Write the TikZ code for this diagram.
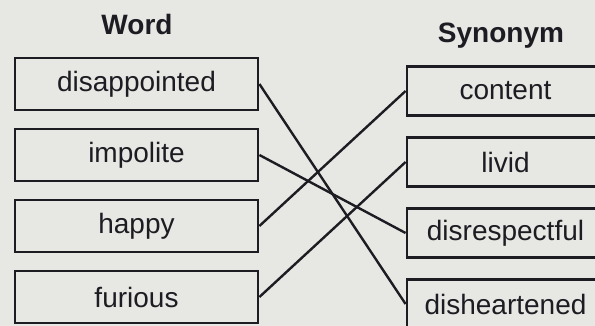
\documentclass[tikz,border=0pt]{standalone}
\usepackage{fontspec}
\setmainfont{Liberation Sans}
\usetikzlibrary{positioning}
\definecolor{paper}{RGB}{231,231,227}
\definecolor{ink}{RGB}{28,28,34}
\begin{document}
\begin{tikzpicture}[
  x=1pt, y=-1pt,
  node distance = 71pt,
  wnode/.style={rectangle, draw=ink, line width=2.8pt, minimum width=243pt, minimum height=52pt, text=ink, font=\fontsize{28}{32}\selectfont},
  snode/.style={wnode, minimum width=197pt, minimum height=49pt},
  hnode/.style={anchor=base, text=ink, font=\fontsize{28}{32}\selectfont\bfseries},
  match/.style={-, draw=ink, line width=2.4pt}
  ]

\fill [paper] (0,0) rectangle (595,326);
\clip (0,0) rectangle (595,326);

% words

\node [hnode] (wordhead) at (137,35) {Word};
\node [wnode] (w1) at (136.5,84) {disappointed};
\node [wnode, below of=w1] (w2) {impolite};
\node [wnode, below of=w2] (w3) {happy};
\node [wnode, below of=w3] (w4) {furious};

% synonyms

\node [hnode] (synhead) at (501,43) {Synonym};
\node [snode] (s1) at (505.5,91) {content};
\node [snode, below of=s1] (s2) {livid};
\node [snode, below of=s2] (s3) {disrespectful};
\node [snode, below of=s3] (s4) {disheartened};

% matching

\draw [match] (w1.east) -- (s4.west);
\draw [match] (w2.east) -- (s3.west);
\draw [match] (w3.east) -- (s1.west);
\draw [match] (w4.east) -- (s2.west);

\end{tikzpicture}
\end{document}
